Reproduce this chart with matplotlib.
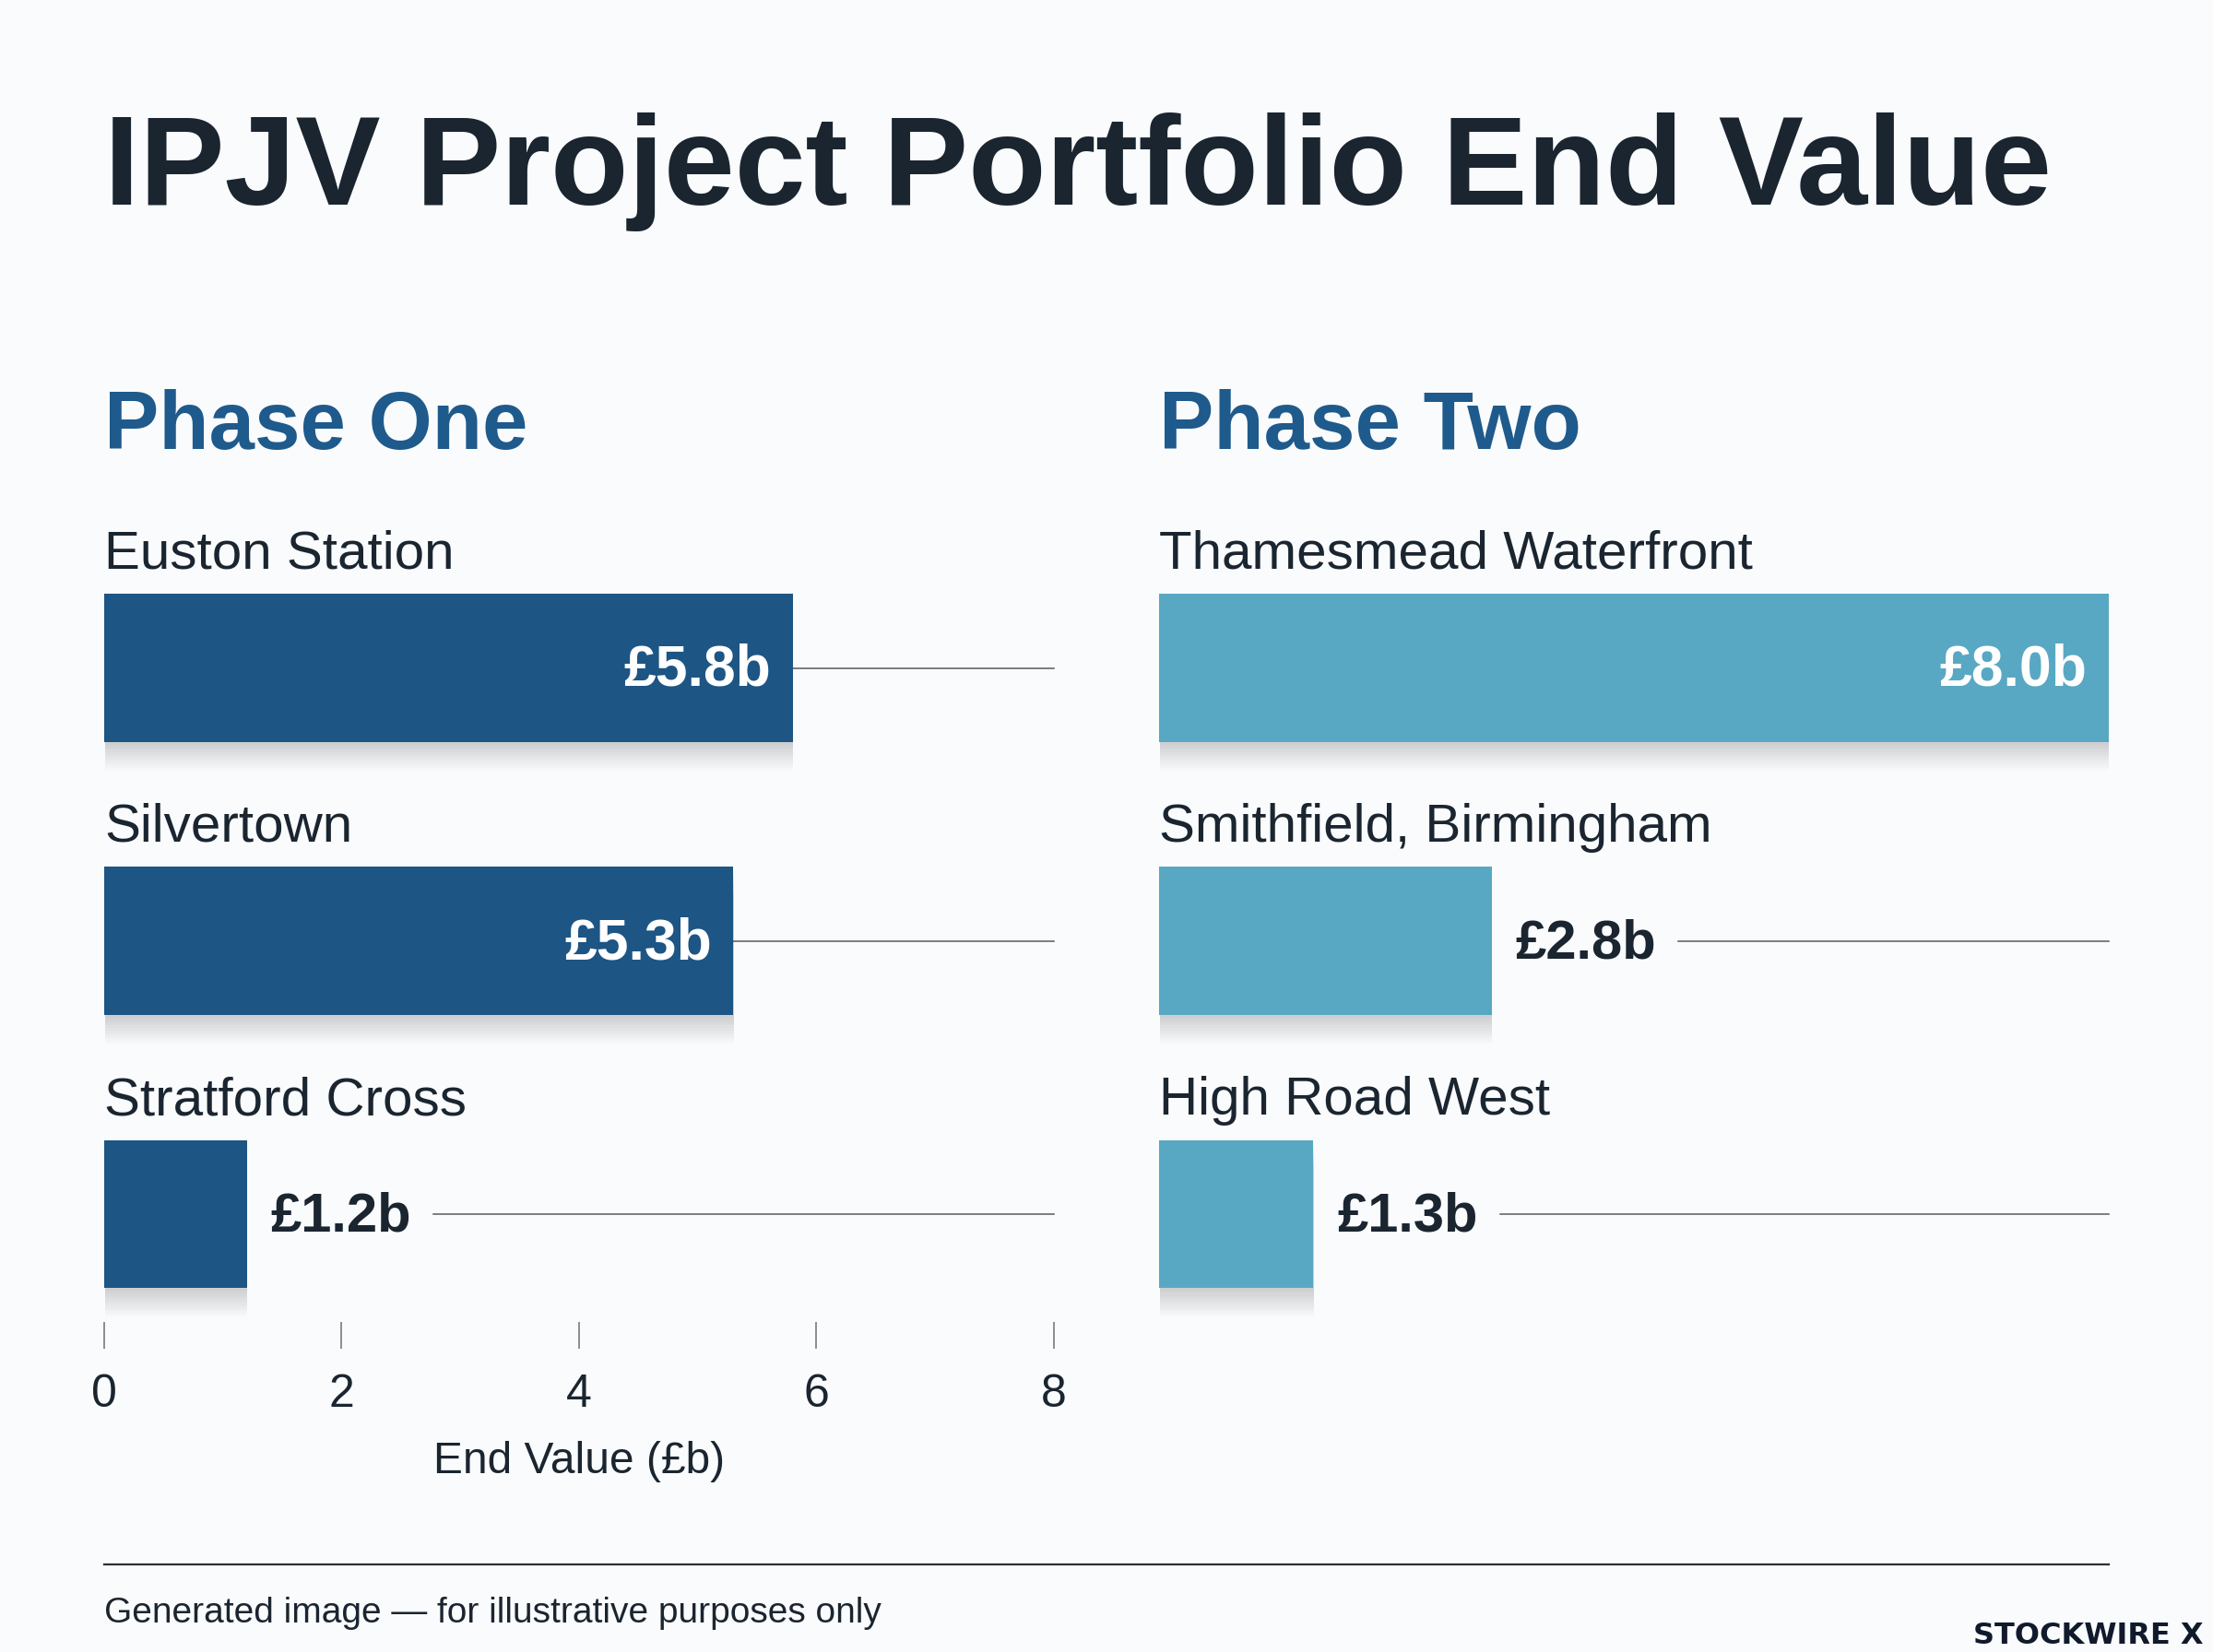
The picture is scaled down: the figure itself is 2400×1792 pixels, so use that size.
import numpy as np
import matplotlib
matplotlib.use('Agg')
import matplotlib.pyplot as plt
from matplotlib import patheffects

plt.rcParams['font.family'] = ['Liberation Sans', 'DejaVu Sans']

# data
phase_one_names = ['Euston Station', 'Silvertown', 'Stratford Cross']
phase_one_values = [5.8, 5.3, 1.2]
phase_two_names = ['Thamesmead Waterfront', 'Smithfield, Birmingham', 'High Road West']
phase_two_values = [8.0, 2.8, 1.3]
x_ticks = [0, 2, 4, 6, 8]

bg = '#fafbfc'
dark = '#1a2530'
blue_dark = '#1d5584'
blue_light = '#58a8c3'
head_col = '#1f5a8c'
line_col = '#555b61'

W, H = 2400, 1792
fig = plt.figure(figsize=(24, 17.92), dpi=100, facecolor=bg)

fig.text(113 / W, 1 - 222 / H, 'IPJV Project Portfolio End Value', fontsize=99.5,
         fontweight='bold', color=dark, ha='left', va='baseline')
fig.text(113 / W, 1 - 487 / H, 'Phase One', fontsize=64, fontweight='bold',
         color=head_col, ha='left', va='baseline')
fig.text(1257 / W, 1 - 487 / H, 'Phase Two', fontsize=64, fontweight='bold',
         color=head_col, ha='left', va='baseline')

ax_w = 1030 / W
ax_b = 1 - 1434 / H
ax_h = (1434 - 560) / H
ax1 = fig.add_axes([113 / W, ax_b, ax_w, ax_h])
ax2 = fig.add_axes([1257 / W, ax_b, ax_w, ax_h])

bar_h = 0.5426
# soft drop shadow, stacked layers
shadow = [patheffects.SimplePatchShadow(offset=(0.5, -k), shadow_rgbFace='k', alpha=0.016)
          for k in range(2, 24, 2)] + [patheffects.Normal()]

pending = []
for ax, names, vals, col in [(ax1, phase_one_names, phase_one_values, blue_dark),
                             (ax2, phase_two_names, phase_two_values, blue_light)]:
    ax.set_facecolor('none')
    ax.set_xlim(0, 8)
    ax.set_ylim(2.395, -0.556)
    for s in ax.spines.values():
        s.set_visible(False)
    ax.set_yticks([])
    y = np.arange(len(vals))
    bars = ax.barh(y, vals, height=bar_h, color=col, zorder=3)
    for b in bars:
        b.set_path_effects(shadow)
    for i, (n, v) in enumerate(zip(names, vals)):
        ax.text(0, i - bar_h / 2 - 0.093, n, fontsize=42, color=dark,
                ha='left', va='baseline', zorder=4)
        if v > 4:
            ax.annotate(f'£{v:.1f}b', (v, i), xytext=(-17, -2), textcoords='offset points',
                        fontsize=45, fontweight='bold', color='white', ha='right',
                        va='center', zorder=4)
            if v < 8:
                ax.plot([v, 8], [i, i], color=line_col, lw=1.1, zorder=2, clip_on=False)
        else:
            t = ax.annotate(f'£{v:.1f}b', (v, i), xytext=(18.5, -2), textcoords='offset points',
                            fontsize=43, fontweight='bold', color=dark, ha='left',
                            va='center', zorder=4)
            pending.append((ax, t, i))

fig.canvas.draw()
r = fig.canvas.get_renderer()
for ax, t, i in pending:
    bb = t.get_window_extent(r)
    x_end = ax.transData.inverted().transform((bb.x1 + 24, 0))[0]
    ax.plot([x_end, 8], [i, i], color=line_col, lw=1.1, zorder=2, clip_on=False)

ax1.set_xticks(x_ticks)
ax1.set_xticklabels([str(v) for v in x_ticks])
ax1.tick_params(axis='x', direction='out', length=21, width=1.1, color='#6b7075',
                labelsize=36, labelcolor=dark, pad=19)
ax1.set_xlabel('End Value (£b)', fontsize=34.5, color=dark, labelpad=20)
ax2.set_xticks([])

# footer
fig.add_artist(plt.Line2D([113 / W, 2287 / W], [1 - 1697 / H, 1 - 1697 / H],
                          color='#2a2f35', lw=1.6))
fig.text(113 / W, 1 - 1760 / H, 'Generated image — for illustrative purposes only',
         fontsize=28, color=dark, ha='left', va='baseline')
fig.text(2390 / W, 1 - 1783 / H, 'STOCKWIRE X', fontsize=23, fontweight='bold',
         family='DejaVu Sans', color='#101a2c', ha='right', va='baseline')

fig.savefig('out.png', dpi=100, facecolor=bg)
